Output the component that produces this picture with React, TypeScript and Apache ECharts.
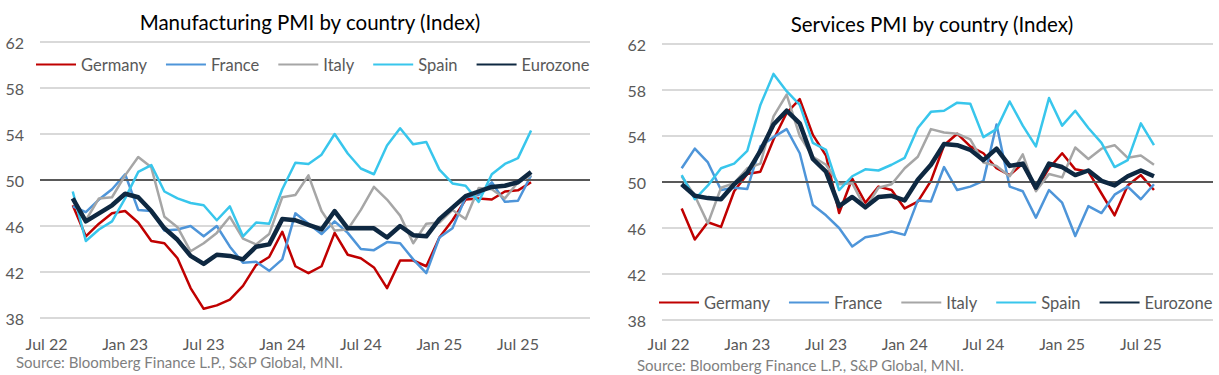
import React, { useEffect, useRef } from 'react';
import * as echarts from 'echarts';

const categories = [
  'Jul 22', 'Aug 22', 'Sep 22', 'Oct 22', 'Nov 22', 'Dec 22',
  'Jan 23', 'Feb 23', 'Mar 23', 'Apr 23', 'May 23', 'Jun 23',
  'Jul 23', 'Aug 23', 'Sep 23', 'Oct 23', 'Nov 23', 'Dec 23',
  'Jan 24', 'Feb 24', 'Mar 24', 'Apr 24', 'May 24', 'Jun 24',
  'Jul 24', 'Aug 24', 'Sep 24', 'Oct 24', 'Nov 24', 'Dec 24',
  'Jan 25', 'Feb 25', 'Mar 25', 'Apr 25', 'May 25', 'Jun 25',
  'Jul 25', 'Aug 25', 'Sep 25', 'Oct 25', 'Nov 25', 'Dec 25',
];

const yTicks = [38, 42, 46, 50, 54, 58, 62];

// Manufacturing PMI, Sep 22 .. Aug 25
const mfgStart = 'Sep 22';
const mfgGermany = [47.8, 45.1, 46.2, 47.1, 47.3, 46.3, 44.7, 44.5, 43.2, 40.6, 38.8, 39.1, 39.6, 40.8, 42.6, 43.3, 45.5, 42.5, 41.9, 42.5, 45.4, 43.5, 43.2, 42.4, 40.6, 43.0, 43.0, 42.5, 45.0, 46.5, 48.3, 48.4, 48.3, 49.0, 49.1, 49.8];
const mfgFrance = [47.7, 47.2, 48.3, 49.2, 50.5, 47.4, 47.3, 45.6, 45.7, 46.0, 45.1, 46.0, 44.2, 42.8, 42.9, 42.1, 43.1, 47.1, 46.2, 45.3, 46.4, 45.4, 44.0, 43.9, 44.6, 44.5, 43.1, 41.9, 45.0, 45.8, 48.5, 48.7, 49.8, 48.1, 48.2, 50.4];
const mfgItaly = [48.3, 46.5, 48.4, 48.5, 50.4, 52.0, 51.1, 46.8, 45.9, 43.8, 44.5, 45.4, 46.8, 44.9, 44.4, 45.3, 48.5, 48.7, 50.4, 47.3, 45.6, 45.7, 47.4, 49.4, 48.3, 46.9, 44.5, 46.2, 46.3, 47.4, 46.6, 49.3, 49.2, 48.4, 49.8, 50.4];
const mfgSpain = [49.0, 44.7, 45.7, 46.4, 48.4, 50.7, 51.3, 49.0, 48.4, 48.0, 47.8, 46.5, 47.7, 45.1, 46.3, 46.2, 49.2, 51.5, 51.4, 52.2, 54.0, 52.3, 51.0, 50.5, 53.0, 54.5, 53.1, 53.3, 50.9, 49.7, 49.5, 48.1, 50.5, 51.4, 51.9, 54.3];
const mfgEurozone = [48.4, 46.4, 47.1, 47.8, 48.8, 48.5, 47.3, 45.8, 44.8, 43.4, 42.7, 43.5, 43.4, 43.1, 44.2, 44.4, 46.6, 46.5, 46.1, 45.7, 47.3, 45.8, 45.8, 45.8, 45.0, 46.0, 45.2, 45.1, 46.6, 47.6, 48.6, 49.0, 49.4, 49.5, 49.8, 50.7];

// Services PMI, Aug 22 .. Aug 25
const svcStart = 'Aug 22';
const svcGermany = [47.7, 45.0, 46.5, 46.1, 49.2, 50.7, 50.9, 53.7, 56.0, 57.2, 54.1, 52.3, 47.3, 50.3, 48.2, 49.6, 49.3, 47.7, 48.3, 50.1, 53.2, 54.2, 53.1, 52.5, 51.2, 50.6, 51.6, 49.3, 51.2, 52.5, 51.1, 50.9, 49.0, 47.1, 49.7, 50.6, 49.3];
const svcFrance = [51.2, 52.9, 51.7, 49.3, 49.5, 49.4, 53.1, 53.9, 54.6, 52.5, 48.0, 47.1, 46.0, 44.4, 45.2, 45.4, 45.7, 45.4, 48.4, 48.3, 51.3, 49.3, 49.6, 50.1, 55.0, 49.6, 49.2, 46.9, 49.3, 48.2, 45.3, 47.9, 47.3, 48.9, 49.6, 48.5, 49.8];
const svcItaly = [50.5, 48.8, 46.4, 49.5, 49.9, 51.2, 51.6, 55.7, 57.6, 54.0, 52.2, 51.5, 49.8, 49.9, 47.7, 49.5, 49.8, 51.2, 52.2, 54.6, 54.3, 54.2, 53.7, 51.7, 51.4, 50.5, 52.4, 49.2, 50.7, 50.4, 53.0, 52.0, 52.9, 53.2, 52.1, 52.3, 51.5];
const svcSpain = [50.6, 48.5, 49.7, 51.2, 51.6, 52.7, 56.7, 59.4, 57.9, 56.7, 53.4, 52.8, 49.3, 50.5, 51.1, 51.0, 51.5, 52.1, 54.7, 56.1, 56.2, 56.9, 56.8, 53.9, 54.6, 57.0, 54.9, 53.1, 57.3, 54.9, 56.2, 54.7, 53.4, 51.3, 51.9, 55.1, 53.2];
const svcEurozone = [49.8, 48.8, 48.6, 48.5, 49.8, 50.8, 52.7, 55.0, 56.2, 55.1, 52.0, 50.9, 47.9, 48.7, 47.8, 48.7, 48.8, 48.4, 50.2, 51.5, 53.3, 53.2, 52.8, 51.9, 52.9, 51.4, 51.6, 49.5, 51.6, 51.3, 50.6, 51.0, 50.1, 49.7, 50.5, 51.0, 50.5];

const seriesNames = ['Germany', 'France', 'Italy', 'Spain', 'Eurozone'];
const seriesColors = ['#C00000', '#4E95D9', '#A6A6A6', '#38C6EC', '#0E2841'];
const seriesWidths = [2.5, 2.5, 2.5, 2.5, 4.5];

const FONT = 'Lato';
const TEXT_GREY = '#595959';

function pad(values: number[], startLabel: string): (number | null)[] {
  const start = categories.indexOf(startLabel);
  const arr: (number | null)[] = categories.map(() => null);
  values.forEach((v, i) => {
    arr[start + i] = v;
  });
  return arr;
}

function buildSeries(sets: number[][], startLabel: string, axisIndex: number) {
  return sets.map((vals, i) => {
    const s: any = {
      name: seriesNames[i],
      type: 'line',
      xAxisIndex: axisIndex,
      yAxisIndex: axisIndex,
      data: pad(vals, startLabel),
      symbol: 'none',
      connectNulls: false,
      color: seriesColors[i],
      lineStyle: { color: seriesColors[i], width: seriesWidths[i], join: 'round' },
      z: 3 + i,
    };
    if (i === 0) {
      s.markLine = {
        silent: true,
        symbol: ['none', 'none'],
        label: { show: false },
        lineStyle: { color: '#595959', width: 2, type: 'solid' },
        data: [{ yAxis: 50 }],
      };
    }
    return s;
  });
}

function xAxisCfg(gridIndex: number, margin: number) {
  return {
    type: 'category',
    gridIndex,
    data: categories,
    boundaryGap: true,
    axisLine: { show: false },
    axisTick: { show: false },
    splitLine: { show: false },
    axisLabel: {
      interval: 5,
      color: TEXT_GREY,
      fontFamily: FONT,
      fontSize: 16,
      margin,
    },
  };
}

function yAxisCfg(gridIndex: number) {
  return {
    type: 'value',
    gridIndex,
    min: 38,
    max: 62,
    axisLine: { show: false },
    axisTick: { show: false, customValues: yTicks },
    axisLabel: {
      customValues: yTicks,
      color: TEXT_GREY,
      fontFamily: FONT,
      fontSize: 16,
      margin: 16,
    },
    splitLine: { show: true, lineStyle: { color: '#D9D9D9', width: 2 } },
  };
}

function legendCfg(left: number, top: number) {
  return {
    left,
    top,
    padding: 0,
    itemWidth: 40,
    itemHeight: 14,
    itemGap: 18,
    data: seriesNames,
    itemStyle: { opacity: 0 },
    textStyle: { color: TEXT_GREY, fontFamily: FONT, fontSize: 16.5 },
  };
}

export default function App() {
  const ref = useRef<HTMLDivElement>(null);

  useEffect(() => {
    if (!ref.current) return;
    const chart = echarts.init(ref.current, undefined, { renderer: 'svg' });
    chart.setOption({
      animation: false,
      backgroundColor: '#FFFFFF',
      grid: [
        { left: 40, top: 42, width: 550, height: 276 },
        { left: 662, top: 44, width: 551, height: 276 },
      ],
      xAxis: [xAxisCfg(0, 17), xAxisCfg(1, 15)],
      yAxis: [yAxisCfg(0), yAxisCfg(1)],
      legend: [legendCfg(35, 56), legendCfg(658, 294)],
      graphic: [
        {
          type: 'text',
          x: 310,
          y: 22,
          style: {
            text: 'Manufacturing PMI by country (Index)',
            align: 'center',
            verticalAlign: 'middle',
            fontFamily: FONT,
            fontSize: 20.5,
            fill: '#000000',
          },
        },
        {
          type: 'text',
          x: 932,
          y: 24,
          style: {
            text: 'Services PMI by country (Index)',
            align: 'center',
            verticalAlign: 'middle',
            fontFamily: FONT,
            fontSize: 20.5,
            fill: '#000000',
          },
        },
        {
          type: 'text',
          x: 16,
          y: 362,
          style: {
            text: 'Source: Bloomberg Finance L.P., S&P Global, MNI.',
            align: 'left',
            verticalAlign: 'middle',
            fontFamily: FONT,
            fontSize: 15,
            fill: '#7F7F7F',
          },
        },
        {
          type: 'text',
          x: 637,
          y: 365,
          style: {
            text: 'Source: Bloomberg Finance L.P., S&P Global, MNI.',
            align: 'left',
            verticalAlign: 'middle',
            fontFamily: FONT,
            fontSize: 15,
            fill: '#7F7F7F',
          },
        },
      ],
      series: [
        ...buildSeries([mfgGermany, mfgFrance, mfgItaly, mfgSpain, mfgEurozone], mfgStart, 0),
        ...buildSeries([svcGermany, svcFrance, svcItaly, svcSpain, svcEurozone], svcStart, 1),
      ],
    });
    return () => chart.dispose();
  }, []);

  return (
    <div
      ref={ref}
      style={{ position: 'fixed', left: 0, top: 0, width: 1219, height: 375 }}
    />
  );
}
